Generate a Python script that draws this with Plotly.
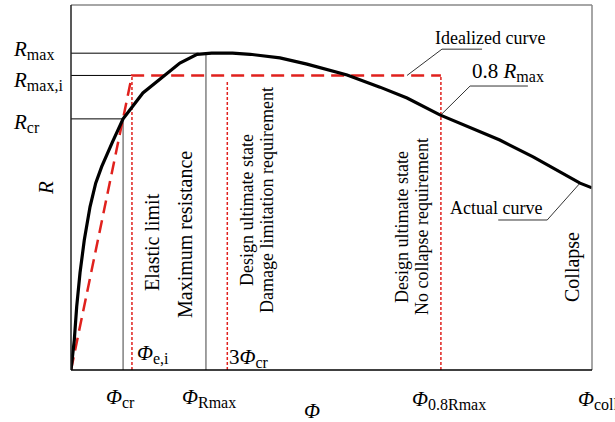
import plotly.graph_objects as go

# ---- data (arbitrary units: Phi 0..100, R 0..100) ----
phi_actual = [0, 0.63, 1.09, 1.73, 2.55, 3.65, 4.74, 5.89, 7.97, 10.0, 13.8, 18.4, 20.9,
              24.2, 27.0, 31.0, 34.4, 40.1, 45.3, 53.0, 59.3, 64.5, 70.8, 82.3, 88.7, 97.7, 100]
R_actual = [0, 8.2, 17.3, 26.6, 35.6, 44.7, 51.2, 55.7, 62.5, 68.8, 75.9, 81.1, 84.1,
            86.5, 86.8, 86.8, 86.5, 85.5, 83.8, 80.8, 77.5, 74.5, 69.9, 63.0, 58.4, 51.2, 49.9]

phi_cr = 10.0
R_cr = 68.8
phi_Rmax = 25.9
R_max = 86.8
phi_ei = 11.7
R_max_i = 80.7
phi_3cr = 3 * phi_cr
phi_08 = 71.0
R_08 = 69.9
phi_coll = 100

phi_ideal = [0, phi_ei, phi_08]
R_ideal = [0, R_max_i, R_max_i]

# leader lines for callouts
lead_ideal_x = [64.5, 71.2, 78.9]
lead_ideal_y = [80.7, 87.9, 87.9]
lead_08_x = [phi_08, 76.6, 87.7]
lead_08_y = [R_08, 77.8, 77.8]
lead_act_x = [97.7, 91.4, 82.0]
lead_act_y = [51.2, 41.1, 41.1]

FONT = "Liberation Serif"
RED = "#e0211d"
GRAY = "#808080"

fig = go.Figure()

def line(x, y, color, width, dash="solid"):
    fig.add_trace(go.Scatter(x=x, y=y, mode="lines", hoverinfo="skip",
                             line=dict(color=color, width=width, dash=dash),
                             showlegend=False, cliponaxis=False))

# reference horizontal lines
line([0, 24.5], [R_max, R_max], "black", 1)
line([0, phi_ei], [R_max_i, R_max_i], "black", 1)
line([0, phi_cr], [R_cr, R_cr], "black", 1)
# gray verticals
line([phi_cr, phi_cr], [0, R_cr], GRAY, 1.5)
line([phi_Rmax, phi_Rmax], [0, R_max], GRAY, 1.5)
# red dotted verticals
line([phi_ei, phi_ei], [0, R_max_i], RED, 1.5, "3px,2px")
line([phi_3cr, phi_3cr], [0, R_max_i - 1.5], RED, 1.5, "3px,2px")
line([phi_08, phi_08], [0, R_max_i], RED, 1.5, "3px,2px")
# leaders
line(lead_ideal_x, lead_ideal_y, "#333333", 1)
line(lead_08_x, lead_08_y, "#333333", 1)
line(lead_act_x, lead_act_y, "#333333", 1)
# idealized curve
line(phi_ideal, R_ideal, RED, 2.5, "13px,7px")
# actual curve
line(phi_actual, R_actual, "black", 3.2)

L, R_, T, B = 71, 23, 5, 52
W, H = 615, 422
PW, PH = W - L - R_, H - T - B

def ann(text, xpx, ypx, size, angle=0, xanchor="center", yanchor="middle"):
    fig.add_annotation(text=text, x=(xpx - L) / PW, y=(H - B - ypx) / PH,
                       xref="paper", yref="paper", showarrow=False,
                       textangle=angle, xanchor=xanchor, yanchor=yanchor,
                       font=dict(family=FONT, size=size, color="black"))

def sub(s, size):
    return "<sub><span style='font-size:%dpx'>%s</span></sub>" % (size, s)

# left labels
ann("<i>R</i>" + sub("max", 16), 11, 50, 21, xanchor="left")
ann("<i>R</i>" + sub("max,i", 16), 11, 81, 21, xanchor="left")
ann("<i>R</i>" + sub("cr", 16), 11, 123, 21, xanchor="left")
ann("<i>R</i>", 46, 188, 21, angle=-90)

# bottom labels
ann("<i>Φ</i>" + sub("cr", 16), 104, 398, 21, xanchor="left")
ann("<i>Φ</i>" + sub("Rmax", 16), 180, 398, 21, xanchor="left")
ann("<i>Φ</i>" + sub("0.8Rmax", 16), 410, 400, 21, xanchor="left")
ann("<i>Φ</i>" + sub("coll", 16), 576, 400, 21, xanchor="left")
ann("<i>Φ</i>", 312, 411, 21)

# inner labels
ann("<i>Φ</i>" + sub("e,i", 16), 135, 354, 21, xanchor="left")
ann("3<i>Φ</i>" + sub("cr", 16), 227, 358, 21, xanchor="left")

ann("Elastic limit", 152, 242, 20, angle=-90)
ann("Maximum resistance", 185, 235, 20, angle=-90)
ann("Design ultimate state", 247, 210, 18, angle=-90)
ann("Damage limitation requirement", 267, 200, 18, angle=-90)
ann("Design ultimate state", 402, 227, 18, angle=-90)
ann("No collapse requirement", 422, 227, 18, angle=-90)
ann("Collapse", 572, 267, 20, angle=-90)

ann("Idealized curve", 433, 38, 18, xanchor="left")
ann("0.8 <i>R</i>" + sub("max", 16), 470, 72, 21, xanchor="left")
ann("Actual curve", 448, 208, 18, xanchor="left")

# frame
fig.add_shape(type="line", xref="paper", yref="paper", x0=0, y0=1, x1=1, y1=1,
              line=dict(color="#888888", width=1.5))
fig.add_shape(type="line", xref="paper", yref="paper", x0=1, y0=0, x1=1, y1=1,
              line=dict(color="#888888", width=1.5))
fig.add_shape(type="line", xref="paper", yref="paper", x0=0, y0=0, x1=0, y1=1,
              line=dict(color="#222222", width=1.5))
fig.add_shape(type="line", xref="paper", yref="paper", x0=0, y0=0, x1=1, y1=0,
              line=dict(color="black", width=1.5))

fig.update_xaxes(range=[0, 100], showgrid=False, zeroline=False, showticklabels=False,
                 ticks="", showline=False, fixedrange=True)
fig.update_yaxes(range=[0, 100], showgrid=False, zeroline=False, showticklabels=False,
                 ticks="", showline=False, fixedrange=True)
fig.update_layout(width=W, height=H, margin=dict(l=L, r=R_, t=T, b=B),
                  plot_bgcolor="white", paper_bgcolor="white", showlegend=False)

fig.write_html("out.html", config={"displayModeBar": False},
               post_script="document.body.style.margin='0';document.body.style.overflow='hidden';")
